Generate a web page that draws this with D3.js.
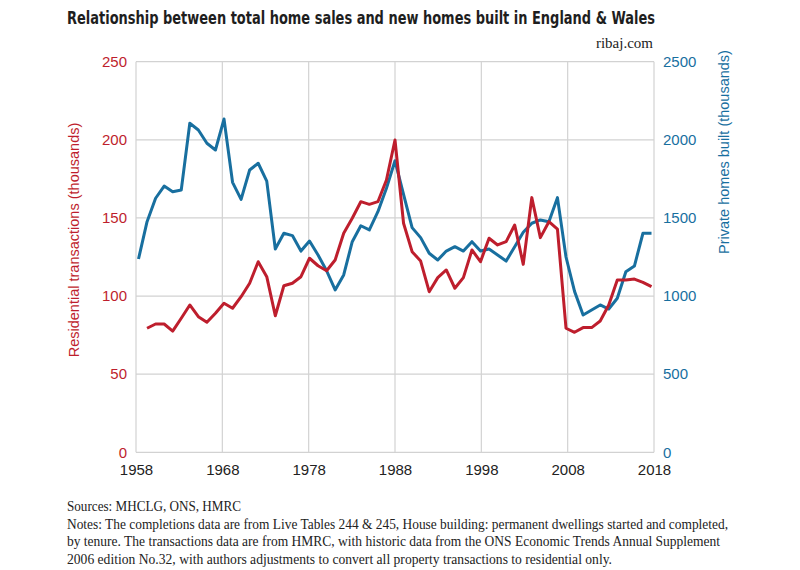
<!DOCTYPE html>
<html><head><meta charset="utf-8">
<script src="https://cdn.jsdelivr.net/npm/d3@7/dist/d3.min.js"></script>
<style>
body{margin:0;background:#fff;}
svg{display:block;}
</style></head>
<body>
<svg id="chart" width="800" height="570"></svg>
<script>
// ---- data ----
const completionYears = d3.range(1958, 2019);
const privateHomesBuilt = [1237,1476,1626,1704,1668,1679,2106,2063,1978,1935,
  2133,1728,1619,1807,1850,1736,1301,1402,1387,1288,
  1352,1263,1162,1039,1135,1348,1450,1423,1540,1690,
  1866,1651,1438,1374,1274,1231,1288,1316,1288,1348,
  1288,1301,1263,1224,1316,1408,1466,1487,1476,1630,
  1250,1030,879,911,943,917,986,1156,1192,1402,1402];
const transactionYears = d3.range(1959, 2019);
const residentialTransactions = [79.4,82.1,82.1,77.6,85.8,94.3,86.8,83.2,89,
  95.4,92.2,99.6,108.2,122,112.4,87.4,106.6,108.2,112.4,
  124.2,119.4,116.2,123.1,140.2,149.8,160.4,158.7,160.4,174.3,
  199.9,146.6,128.4,122.4,102.8,111.8,116.7,105,111.8,129.5,
  122,137,132.7,134.8,145.5,120.3,163,137.4,147.6,142.9,
  79.4,76.8,79.8,79.8,84,94.3,110.3,110.3,110.9,108.8,106];
const xTicks = [1958,1968,1978,1988,1998,2008,2018];
const leftTicks = [0,50,100,150,200,250];
const rightTicks = [0,500,1000,1500,2000,2500];
const titleText = "Relationship between total home sales and new homes built in England & Wales";
const footerLines = [
  "Sources: MHCLG, ONS, HMRC",
  "Notes: The completions data are from Live Tables 244 & 245, House building: permanent dwellings started and completed,",
  "by tenure. The transactions data are from HMRC, with historic data from the ONS Economic Trends Annual Supplement",
  "2006 edition No.32, with authors adjustments to convert all property transactions to residential only."
];

// ---- styles ----
const RED = "#be1e2d", BLUE = "#186f9f", GRID = "#d2d2d2";
const L = 136, R = 654, T = 61.7, B = 452.3;

const svg = d3.select("#chart");

const xAxisScale = d3.scaleLinear().domain([1958, 2018]).range([L, R]);
const xData = d3.scaleLinear().domain([1958, 2018]).range([138.5, 651.5]);
const yLeft = d3.scaleLinear().domain([0, 250]).range([B, T]);
const yRight = d3.scaleLinear().domain([0, 2500]).range([B, T]);

// title
svg.append("text").attr("x", 67).attr("y", 24)
  .attr("font-family", "'Liberation Sans Narrow','DejaVu Sans Condensed','Liberation Sans',sans-serif")
  .attr("font-weight", "bold").attr("font-size", 18).attr("fill", "#1e1e1e")
  .attr("textLength", 588).attr("lengthAdjust", "spacingAndGlyphs")
  .text(titleText);
svg.append("text").attr("x", 653).attr("y", 48).attr("text-anchor", "end")
  .attr("font-family", "'Liberation Serif',serif").attr("font-size", 15).attr("fill", "#222")
  .text("ribaj.com");

// grid
const g = svg.append("g");
g.selectAll("line.h").data(leftTicks).join("line")
  .attr("x1", L).attr("x2", R).attr("y1", d => yLeft(d)).attr("y2", d => yLeft(d))
  .attr("stroke", GRID).attr("stroke-width", 1.2);
g.selectAll("line.v").data(xTicks).join("line").attr("class", "v")
  .attr("x1", d => xAxisScale(d)).attr("x2", d => xAxisScale(d)).attr("y1", T).attr("y2", B)
  .attr("stroke", GRID).attr("stroke-width", 1.2);

// axes
const axisFont = "'Liberation Sans',Arial,sans-serif";
const ax = svg.append("g").attr("transform", `translate(0,${B})`)
  .call(d3.axisBottom(xAxisScale).tickValues(xTicks).tickFormat(d3.format("d")).tickSize(0).tickPadding(12));
ax.select(".domain").remove();
ax.selectAll("text").attr("font-family", axisFont).attr("font-size", 15).attr("fill", "#222");

const al = svg.append("g").attr("transform", `translate(${L},0)`)
  .call(d3.axisLeft(yLeft).tickValues(leftTicks).tickFormat(d3.format("d")).tickSize(0).tickPadding(9));
al.select(".domain").remove();
al.selectAll("text").attr("font-family", axisFont).attr("font-size", 15).attr("fill", RED);

const ar = svg.append("g").attr("transform", `translate(${R},0)`)
  .call(d3.axisRight(yRight).tickValues(rightTicks).tickFormat(d3.format("d")).tickSize(0).tickPadding(9));
ar.select(".domain").remove();
ar.selectAll("text").attr("font-family", axisFont).attr("font-size", 15).attr("fill", BLUE);

// axis titles
svg.append("text").attr("transform", `translate(79,240) rotate(-90)`).attr("text-anchor", "middle")
  .attr("font-family", axisFont).attr("font-size", 14.5).attr("fill", RED)
  .text("Residential transactions (thousands)");
svg.append("text").attr("transform", `translate(729,152) rotate(-90)`).attr("text-anchor", "middle")
  .attr("font-family", axisFont).attr("font-size", 14.5).attr("fill", BLUE)
  .text("Private homes built (thousands)");

// lines
const blueLine = d3.line().x((d, i) => xData(completionYears[i])).y(d => yRight(d));
const redLine = d3.line().x((d, i) => xData(transactionYears[i])).y(d => yLeft(d));
svg.append("path").datum(privateHomesBuilt).attr("d", blueLine)
  .attr("fill", "none").attr("stroke", BLUE).attr("stroke-width", 3).attr("stroke-linejoin", "round");
svg.append("path").datum(residentialTransactions).attr("d", redLine)
  .attr("fill", "none").attr("stroke", RED).attr("stroke-width", 3).attr("stroke-linejoin", "round");

// footer
const footerWidths = [174, 661, 653, 545];
svg.append("g").selectAll("text").data(footerLines).join("text")
  .attr("x", 67).attr("y", (d, i) => 511 + i * 17.7)
  .attr("font-family", "'Liberation Serif',serif").attr("font-size", 14).attr("fill", "#222")
  .attr("textLength", (d, i) => footerWidths[i]).attr("lengthAdjust", "spacingAndGlyphs")
  .text(d => d);
</script>
</body></html>
